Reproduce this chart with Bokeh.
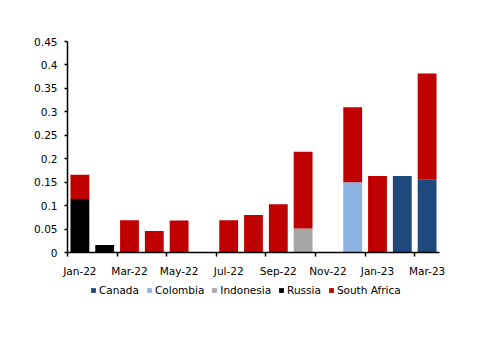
from bokeh.plotting import figure
from bokeh.models import FixedTicker, Range1d, Legend, LegendItem
from bokeh.embed import file_html
from bokeh.resources import INLINE

months = ["Jan-22", "Feb-22", "Mar-22", "Apr-22", "May-22", "Jun-22", "Jul-22", "Aug-22",
          "Sep-22", "Oct-22", "Nov-22", "Dec-22", "Jan-23", "Feb-23", "Mar-23"]
canada = [0, 0, 0, 0, 0, 0, 0, 0, 0, 0, 0, 0, 0, 0.163, 0.155]
colombia = [0, 0, 0, 0, 0, 0, 0, 0, 0, 0, 0, 0.150, 0, 0, 0]
indonesia = [0, 0, 0, 0, 0, 0, 0, 0, 0, 0.051, 0, 0, 0, 0, 0]
russia = [0.114, 0.016, 0, 0, 0, 0, 0, 0, 0, 0, 0, 0, 0, 0, 0]
south_africa = [0.052, 0, 0.069, 0.046, 0.068, 0, 0.069, 0.080, 0.103, 0.164, 0, 0.160, 0.163, 0, 0.227]

series_names = ["Canada", "Colombia", "Indonesia", "Russia", "South Africa"]
series_colors = ["#1F497D", "#8DB4E2", "#A6A6A6", "#000000", "#C00000"]
y_ticks = [0, 0.05, 0.1, 0.15, 0.2, 0.25, 0.3, 0.35, 0.4, 0.45]
y_labels = ["0", "0.05", "0.1", "0.15", "0.2", "0.25", "0.3", "0.35", "0.4", "0.45"]

FONT = "DejaVu Sans"
FS = "10.5px"
TXT = "#000000"

# ---- layout (pixels) ----
W, H = 500, 353
BORDER = 20                      # frame inset on every side
AX_LEFT, AX_RIGHT = 67, 439      # where the category axis starts / ends
AX_TOP, AX_ZERO = 41, 252        # pixel rows of the value-axis max and zero
N = len(months)
Y_MAX = y_ticks[-1]
px_x = (AX_RIGHT - AX_LEFT) / N
px_y = (AX_ZERO - AX_TOP) / Y_MAX
x_start = -0.5 - (AX_LEFT - BORDER) / px_x
x_end = N - 0.5 + (W - BORDER - AX_RIGHT) / px_x
y_end = Y_MAX + (AX_TOP - BORDER) / px_y
y_start = -(H - BORDER - AX_ZERO) / px_y

x = list(range(N))
data = {"x": x, "Canada": canada, "Colombia": colombia, "Indonesia": indonesia,
        "Russia": russia, "South Africa": south_africa}

p = figure(width=W, height=H, output_backend="svg", toolbar_location=None,
           x_range=Range1d(x_start, x_end), y_range=Range1d(y_start, y_end),
           min_border_left=BORDER, min_border_right=BORDER,
           min_border_top=BORDER, min_border_bottom=BORDER)
p.outline_line_color = None
p.xgrid.visible = False
p.ygrid.visible = False

renderers = p.vbar_stack(series_names, x="x", width=0.76, source=data,
                         color=series_colors, line_color=None)

# y axis, drawn at the left edge of the categories
ya = p.yaxis[0]
ya.fixed_location = -0.5
ya.bounds = (0, Y_MAX)
ya.ticker = FixedTicker(ticks=y_ticks)
ya.major_label_overrides = {t: l for t, l in zip(y_ticks, y_labels)}
ya.minor_tick_line_color = None
ya.major_tick_out = 3
ya.major_tick_in = 0
ya.major_label_standoff = 7
ya.axis_line_color = "#000000"
ya.axis_line_width = 1.5
ya.major_tick_line_color = "#000000"
ya.major_tick_line_width = 1.5
ya.major_label_text_font = FONT
ya.major_label_text_font_size = FS
ya.major_label_text_color = TXT

# x axis at value 0: labels on every other category, ticks at category boundaries
xa = p.xaxis[0]
xa.fixed_location = 0
xa.bounds = (-0.5, N - 0.5)
label_pos = x[::2]
xa.ticker = FixedTicker(ticks=label_pos, minor_ticks=[i - 0.5 for i in label_pos])
xa.major_label_overrides = {i: months[i] for i in label_pos}
xa.major_tick_line_color = None
xa.major_tick_out = 0
xa.major_tick_in = 0
xa.minor_tick_out = 4
xa.minor_tick_in = 0
xa.minor_tick_line_color = "#000000"
xa.minor_tick_line_width = 1.5
xa.major_label_standoff = 8
xa.axis_line_color = "#000000"
xa.axis_line_width = 1.5
xa.major_label_text_font = FONT
xa.major_label_text_font_size = FS
xa.major_label_text_color = TXT

legend = Legend(items=[LegendItem(label=n, renderers=[r]) for n, r in zip(series_names, renderers)],
                orientation="horizontal", location=(90 - BORDER, (H - BORDER) - 296),
                glyph_width=6, glyph_height=6, label_standoff=3, spacing=7,
                label_height=12, label_width=0, padding=0, margin=0,
                border_line_color=None, background_fill_alpha=0,
                label_text_font=FONT, label_text_font_size=FS, label_text_color=TXT)
p.add_layout(legend, "center")

open("out.html", "w").write(file_html(p, INLINE))
